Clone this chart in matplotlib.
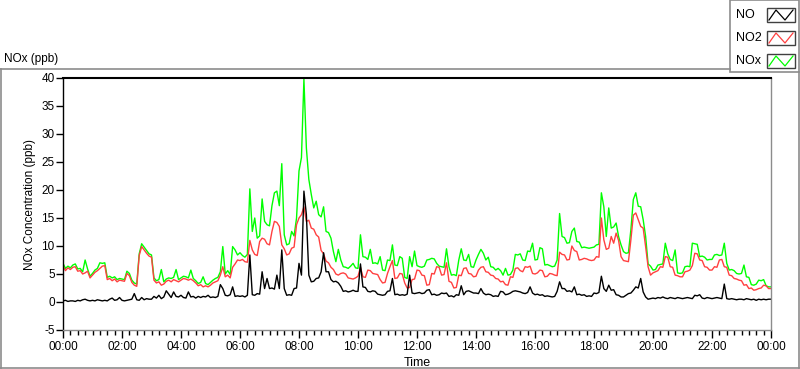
import numpy as np
import matplotlib
matplotlib.use("Agg")
import matplotlib.pyplot as plt
from matplotlib.lines import Line2D
from matplotlib.patches import Rectangle

plt.rcParams['font.family'] = ['Liberation Sans', 'DejaVu Sans']
plt.rcParams['axes.unicode_minus'] = False

# 5-minute readings, 00:00 -> 24:00 (12 values per hour + final point)
no = [
    0.2, 0.3, 0.1, 0.2, 0.2, 0.1, 0.3, 0.2, 0.4, 0.5, 0.3, 0.2,
    0.3, 0.2, 0.4, 0.3, 0.2, 0.3, 0.2, 0.5, 0.7, 0.3, 0.4, 0.8,
    0.3, 0.2, 0.3, 0.4, 0.5, 1.5, 0.4, 0.3, 0.8, 0.4, 0.6, 0.5,
    0.5, 1.0, 0.7, 1.2, 0.6, 0.9, 2.0, 1.4, 0.8, 1.8, 1.0, 0.9,
    1.2, 0.8, 0.7, 1.8, 0.9, 1.0, 0.7, 1.0, 0.8, 1.0, 0.9, 1.2,
    0.8, 0.9, 0.8, 1.0, 3.1, 2.4, 1.2, 1.1, 1.3, 2.7, 1.0, 1.1,
    1.0, 1.1, 0.9, 1.2, 8.4, 1.3, 1.2, 1.5, 1.4, 5.4, 2.4, 4.2,
    2.4, 2.5, 2.3, 4.8, 2.4, 9.3, 2.4, 1.2, 1.3, 1.2, 2.4, 2.5,
    6.9, 4.8, 19.8, 15.6, 4.8, 3.6, 3.7, 4.2, 4.3, 5.4, 8.8, 5.4,
    5.4, 4.0, 3.6, 3.7, 3.4, 2.8, 1.9, 2.0, 1.8, 1.9, 2.1, 1.9,
    1.9, 6.8, 2.7, 2.6, 1.9, 1.8, 2.0, 1.9, 1.4, 1.3, 1.2, 1.3,
    1.9, 2.0, 4.2, 1.3, 1.4, 1.2, 1.3, 1.2, 1.4, 4.8, 1.6, 1.5,
    1.6, 1.7, 1.5, 1.6, 2.1, 2.2, 1.3, 1.4, 1.2, 1.3, 1.6, 1.5,
    1.6, 1.0, 1.1, 0.9, 1.3, 1.2, 2.9, 1.3, 1.9, 2.0, 1.8, 1.6,
    1.6, 1.5, 2.4, 1.6, 1.3, 1.4, 1.3, 1.0, 1.1, 1.0, 1.9, 1.8,
    1.3, 1.4, 1.6, 1.9, 2.0, 1.9, 1.8, 1.6, 1.5, 1.7, 2.7, 1.6,
    1.3, 1.4, 1.2, 1.3, 1.0, 1.1, 1.0, 0.9, 1.0, 1.9, 3.6, 2.4,
    2.4, 1.9, 2.0, 1.8, 2.7, 1.3, 1.4, 1.2, 1.3, 1.0, 1.1, 1.0,
    1.6, 1.5, 1.7, 4.6, 2.4, 1.9, 3.0, 2.1, 2.2, 1.3, 1.2, 0.9,
    0.9, 1.2, 1.5, 1.6, 2.1, 2.7, 2.5, 4.2, 1.8, 0.9, 0.5, 0.6,
    0.7, 0.6, 0.8, 0.7, 0.9, 0.7, 0.6, 0.8, 0.7, 0.6, 0.8, 0.7,
    0.6, 0.7, 0.8, 0.7, 0.6, 1.2, 1.1, 1.3, 0.7, 0.6, 0.8, 0.7,
    0.6, 0.7, 0.8, 0.7, 0.6, 3.2, 0.6, 0.5, 0.6, 0.5, 0.4, 0.5,
    0.5, 0.4, 0.6, 0.5, 0.4, 0.5, 0.3, 0.5, 0.4, 0.5, 0.4, 0.5,
    0.5]

no2 = [
    6.5, 5.6, 6.1, 5.8, 6.2, 6.3, 5.5, 5.6, 5.0, 5.2, 5.5, 4.3,
    4.8, 5.3, 5.6, 6.0, 6.4, 6.5, 4.0, 4.2, 3.8, 4.1, 3.6, 3.9,
    3.8, 3.7, 5.1, 4.7, 3.5, 3.0, 2.8, 8.3, 9.9, 9.3, 8.7, 8.2,
    8.0, 3.9, 3.4, 3.6, 3.0, 3.2, 3.7, 3.9, 3.6, 4.0, 3.8, 3.6,
    3.9, 4.2, 4.1, 3.9, 4.1, 3.8, 3.4, 2.9, 3.1, 2.7, 2.9, 2.7,
    3.0, 3.4, 3.6, 3.8, 4.8, 6.3, 4.5, 4.8, 4.3, 6.2, 6.8, 7.5,
    7.4, 7.6, 7.2, 7.1, 11.0, 9.3, 8.5, 8.3, 10.8, 11.4, 11.2, 10.4,
    10.2, 12.6, 14.4, 14.2, 13.5, 10.2, 9.5, 8.4, 8.6, 9.6, 9.8, 13.8,
    15.0, 15.6, 17.0, 14.4, 14.6, 13.2, 13.0, 12.0, 11.6, 9.2, 8.6, 7.3,
    7.0, 6.2, 5.8, 5.0, 4.8, 5.1, 5.2, 5.0, 4.3, 4.2, 4.1, 4.3,
    4.6, 6.2, 4.5, 4.4, 5.7, 5.6, 5.1, 5.0, 4.9, 4.0, 3.4, 3.5,
    5.1, 6.3, 7.4, 4.2, 4.3, 5.1, 5.0, 3.4, 2.5, 2.6, 4.0, 4.1,
    5.7, 5.6, 4.8, 4.7, 3.0, 3.1, 5.1, 5.0, 6.3, 6.2, 4.8, 4.9,
    7.0, 3.7, 3.5, 2.5, 2.6, 4.8, 4.7, 6.0, 6.1, 5.1, 5.0, 4.5,
    4.6, 5.7, 6.2, 6.3, 5.4, 5.3, 4.8, 4.7, 4.2, 4.1, 3.6, 3.7,
    3.1, 3.0, 4.5, 4.4, 6.0, 6.1, 5.6, 5.4, 6.3, 6.2, 6.4, 5.1,
    5.0, 5.2, 5.7, 5.6, 4.5, 4.6, 5.1, 5.0, 4.8, 4.7, 8.9, 8.5,
    8.4, 7.5, 7.6, 10.0, 9.2, 9.0, 7.5, 7.6, 7.8, 7.7, 7.5, 7.4,
    7.5, 8.1, 8.0, 15.0, 11.1, 9.4, 9.6, 11.7, 10.5, 12.3, 11.0, 8.1,
    7.4, 7.3, 7.2, 11.1, 15.5, 15.9, 14.7, 13.5, 13.2, 9.9, 6.3, 4.8,
    5.2, 5.4, 5.6, 6.3, 6.2, 8.1, 8.0, 6.3, 6.2, 4.8, 4.7, 4.5,
    4.5, 5.4, 5.5, 5.7, 6.5, 8.7, 8.6, 7.5, 7.4, 6.3, 6.2, 5.7,
    5.7, 6.3, 6.2, 7.5, 7.6, 6.3, 6.2, 4.8, 4.7, 4.2, 4.1, 3.9,
    3.8, 3.0, 3.1, 2.4, 2.5, 2.1, 2.2, 2.4, 2.5, 3.0, 2.9, 2.4,
    2.4]

nox = [
    6.9, 6.0, 6.4, 6.1, 6.6, 6.8, 5.9, 6.0, 5.4, 7.5, 5.9, 4.6,
    5.1, 5.7, 6.0, 7.0, 6.9, 7.0, 4.4, 4.6, 4.3, 4.5, 4.0, 4.2,
    4.1, 4.0, 5.5, 5.1, 3.9, 3.4, 3.2, 8.6, 10.4, 9.8, 9.2, 8.6,
    8.4, 4.3, 3.8, 4.0, 5.8, 3.6, 4.1, 4.3, 4.2, 4.4, 5.8, 4.0,
    4.3, 4.6, 4.5, 4.3, 5.7, 4.2, 3.8, 3.3, 3.5, 4.5, 3.3, 3.1,
    3.5, 3.9, 4.2, 4.4, 5.4, 9.9, 5.0, 5.6, 4.9, 9.9, 9.3, 8.4,
    8.8, 8.3, 8.0, 8.5, 20.2, 12.6, 15.0, 11.4, 11.8, 18.4, 14.4, 13.8,
    13.6, 17.2, 19.5, 19.8, 17.2, 24.7, 12.0, 10.2, 10.4, 12.6, 11.8, 15.0,
    23.4, 25.8, 39.8, 27.5, 21.9, 19.2, 16.8, 18.0, 15.6, 15.2, 17.0, 12.6,
    12.4, 11.4, 9.0, 7.2, 9.4, 7.5, 6.3, 6.2, 6.0, 6.4, 6.9, 6.1,
    6.0, 12.0, 8.1, 8.0, 7.6, 9.4, 6.9, 7.0, 6.8, 8.1, 5.7, 5.6,
    7.5, 7.4, 10.2, 6.6, 6.5, 8.1, 7.8, 4.4, 4.2, 8.1, 6.3, 9.1,
    6.5, 6.3, 6.2, 6.4, 7.5, 7.6, 7.8, 7.7, 6.9, 6.4, 6.3, 6.2,
    9.5, 6.3, 4.8, 4.9, 4.7, 7.5, 9.5, 7.5, 7.4, 8.5, 6.3, 6.2,
    7.5, 8.5, 9.4, 8.7, 7.5, 8.0, 6.3, 6.2, 5.7, 6.0, 5.6, 4.8,
    6.0, 4.8, 4.9, 5.7, 8.5, 8.4, 8.6, 7.5, 7.4, 9.1, 9.0, 10.5,
    7.5, 7.6, 9.7, 9.5, 6.6, 6.7, 6.5, 6.3, 6.4, 7.5, 15.8, 11.7,
    11.5, 10.5, 10.6, 12.6, 13.2, 10.8, 10.7, 9.7, 9.8, 9.7, 9.6, 9.7,
    9.8, 10.2, 10.3, 19.5, 17.0, 11.7, 16.8, 13.2, 13.4, 14.1, 11.7, 10.2,
    9.0, 8.7, 8.8, 12.9, 18.3, 19.5, 17.1, 17.0, 14.7, 11.7, 6.8, 6.4,
    5.7, 5.8, 6.6, 6.7, 6.8, 10.5, 8.6, 7.6, 7.4, 9.3, 5.2, 5.1,
    5.2, 6.3, 6.4, 6.3, 10.5, 10.4, 10.3, 8.1, 8.2, 8.0, 7.5, 7.6,
    7.6, 8.4, 8.5, 8.3, 8.4, 10.5, 6.9, 5.7, 5.8, 5.6, 5.1, 5.0,
    5.1, 6.6, 4.5, 4.4, 3.1, 3.0, 3.2, 3.9, 3.8, 4.0, 2.9, 2.7,
    2.7]

hours = np.arange(len(no)) * 5 / 60.0
tick_hours = list(range(0, 25, 2))
tick_labels = ["00:00", "02:00", "04:00", "06:00", "08:00", "10:00", "12:00",
               "14:00", "16:00", "18:00", "20:00", "22:00", "00:00"]
series_names = ["NO", "NO2", "NOx"]
series_colors = ["black", "#ff4040", "#00ff00"]

W, H = 800, 369
fig = plt.figure(figsize=(W / 100, H / 100), dpi=100)


def fx(x):
    return x / W


def fy(y):
    return 1 - y / H


ax = fig.add_axes([fx(63), fy(330), (771 - 63) / W, (330 - 78) / H])
ax.plot(hours, nox, color=series_colors[2], lw=1.0)
ax.plot(hours, no2, color=series_colors[1], lw=1.0)
ax.plot(hours, no, color=series_colors[0], lw=1.0)

ax.set_xlim(0, 24)
ax.set_ylim(-5, 40)
ax.set_yticks(range(-5, 41, 5))
ax.set_xticks(tick_hours)
ax.set_xticklabels(tick_labels)
ax.set_xticks(np.arange(0, 24.01, 0.25), minor=True)
ax.tick_params(axis='y', direction='out', length=5, width=1, labelsize=8.5, pad=1)
ax.tick_params(axis='x', which='major', direction='out', length=6, width=1, labelsize=8.5, pad=2)
ax.tick_params(axis='x', which='minor', direction='out', length=3.5, width=1)
for s in ['top', 'left']:
    ax.spines[s].set_color('black')
ax.spines['top'].set_linewidth(1.5)
ax.spines['left'].set_linewidth(1.0)
for s in ['right', 'bottom']:
    ax.spines[s].set_color('#8c8c8c')
    ax.spines[s].set_linewidth(1.0)

ax.set_ylabel("NOx Concentration (ppb)", fontsize=8.5, labelpad=4)
ax.set_xlabel("Time", fontsize=9, labelpad=3)

# outer panel frame
gray = '#8c8c8c'
for (x0, y0, x1, y1) in [(0, 69, 730, 69), (0.5, 69, 0.5, 368), (0, 367.5, 799, 367.5),
                         (798.5, 72, 798.5, 368)]:
    fig.add_artist(Line2D([fx(x0), fx(x1)], [fy(y0), fy(y1)], color=gray, lw=1.2))
fig.text(fx(4), fy(59), "NOx (ppb)", fontsize=8.5, va='center', ha='left')

# legend panel
fig.add_artist(Rectangle((fx(730), fy(72)), (798.5 - 730) / W, 72 / H,
                         facecolor='white', edgecolor=gray, lw=1.2))
for i, (name, col) in enumerate(zip(series_names, series_colors)):
    yc = 15 + i * 23
    fig.text(fx(736), fy(yc), name, fontsize=9, va='center', ha='left')
    fig.add_artist(Rectangle((fx(767), fy(yc + 7)), 28 / W, 14 / H,
                             facecolor='white', edgecolor='#404040', lw=1.0))
    zx = [769, 776, 785, 793]
    zy = [yc + 5, yc - 5, yc + 5, yc - 5]
    fig.add_artist(Line2D([fx(v) for v in zx], [fy(v) for v in zy], color=col, lw=0.9))

fig.savefig("out.png", dpi=100)
